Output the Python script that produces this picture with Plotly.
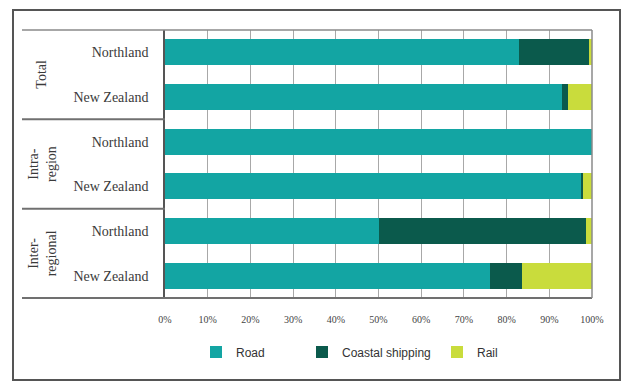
import plotly.graph_objects as go

# ---- data ----
row_labels = ["Northland", "New Zealand", "Northland", "New Zealand", "Northland", "New Zealand"]
group_labels = ["Total", "Intra-<br>region", "Inter-<br>regional"]
group_rows = [[0, 1], [2, 3], [4, 5]]
series_names = ["Road", "Coastal shipping", "Rail"]
road = [83.0, 93.0, 100.0, 97.6, 50.0, 76.2]
coastal = [16.3, 1.4, 0.0, 0.4, 48.6, 7.3]
rail = [0.7, 5.6, 0.0, 2.0, 1.4, 16.5]
x_ticks = [0, 10, 20, 30, 40, 50, 60, 70, 80, 90, 100]
x_tick_labels = [f"{v}%" for v in x_ticks]

colors = ["#13a5a3", "#0b5a4c", "#c9dc3c"]
rows = list(range(len(row_labels)))

W, H = 630, 383
L, R, T, B = 165, 38, 30, 85
pw, ph = W - L - R, H - T - B

def px_x(px):
    return (px - L) / pw

def px_y(py):
    return (H - B - py) / ph

fig = go.Figure()
legends = ["legend", "legend2", "legend3"]
for name, vals, col, lg in zip(series_names, [road, coastal, rail], colors, legends):
    fig.add_trace(go.Bar(
        y=rows, x=vals, name=name, orientation="h",
        marker=dict(color=col, line=dict(width=0)),
        legend=lg, showlegend=True,
    ))

serif = "Liberation Serif"
sans = "Liberation Sans"

shapes = []
shapes.append(dict(type="rect", xref="paper", yref="paper",
                   x0=px_x(13), x1=px_x(620), y0=px_y(380), y1=px_y(10),
                   line=dict(color="#555555", width=2), fillcolor="rgba(0,0,0,0)", layer="below"))
shapes.append(dict(type="line", xref="paper", yref="paper", x0=px_x(22), x1=1, y0=1, y1=1,
                   line=dict(color="#8a8a8a", width=1.5)))
shapes.append(dict(type="line", xref="paper", yref="paper", x0=px_x(22), x1=1, y0=0, y1=0,
                   line=dict(color="#707070", width=2)))
shapes.append(dict(type="line", xref="paper", yref="paper", x0=1, x1=1, y0=0, y1=1,
                   line=dict(color="#8a8a8a", width=1.5)))
for g in group_rows[:-1]:
    yb = g[-1] + 0.5
    shapes.append(dict(type="line", xref="paper", yref="y", x0=px_x(22), x1=0, y0=yb, y1=yb,
                       line=dict(color="#707070", width=2)))

annotations = []
for lbl, g in zip(group_labels, group_rows):
    annotations.append(dict(text=lbl, xref="paper", yref="y", x=px_x(42),
                            y=sum(g) / len(g), textangle=-90, showarrow=False,
                            font=dict(family=serif, size=14, color="#3a3a3a"),
                            xanchor="center", yanchor="middle"))

leg_common = dict(orientation="h", xanchor="left", yanchor="middle",
                  font=dict(family=sans, size=12, color="#333333"),
                  bgcolor="rgba(0,0,0,0)", itemwidth=30)

fig.update_layout(
    width=W, height=H,
    margin=dict(l=L, r=R, t=T, b=B),
    barmode="stack", bargap=0.42,
    paper_bgcolor="white", plot_bgcolor="white",
    showlegend=True,
    shapes=shapes, annotations=annotations,
    legend=dict(x=px_x(196), y=px_y(352), **leg_common),
    legend2=dict(x=px_x(302), y=px_y(352), **leg_common),
    legend3=dict(x=px_x(437), y=px_y(352), **leg_common),
    xaxis=dict(range=[0, 100], tickmode="array", tickvals=x_ticks, ticktext=x_tick_labels,
               showgrid=True, gridcolor="#a8a8a8", gridwidth=1, zeroline=False,
               ticks="outside", ticklen=12, tickcolor="rgba(0,0,0,0)",
               tickfont=dict(family=serif, size=10, color="#444444"),
               showline=False, fixedrange=True),
    yaxis=dict(tickmode="array", tickvals=rows, ticktext=row_labels, range=[5.5, -0.5],
               showgrid=False, zeroline=False,
               showline=True, linecolor="#555555", linewidth=1.5,
               ticks="outside", ticklen=12, tickcolor="rgba(0,0,0,0)",
               tickfont=dict(family=serif, size=14, color="#3a3a3a"),
               fixedrange=True),
)

fig.write_html("out.html")
